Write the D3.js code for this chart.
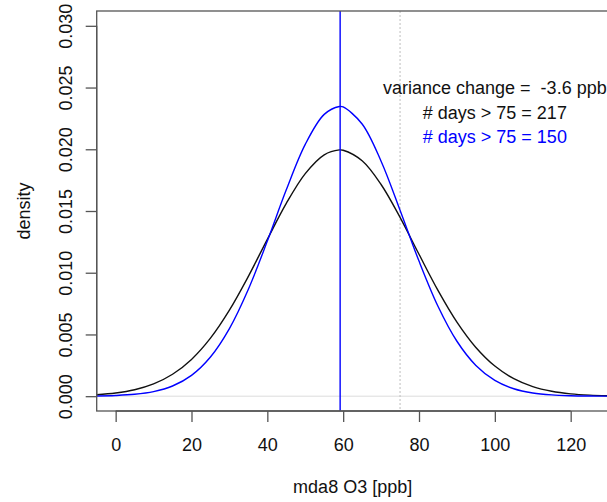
<!DOCTYPE html>
<html>
<head>
<meta charset="utf-8">
<script src="https://cdn.jsdelivr.net/npm/d3@7"></script>
<style>
  html, body { margin: 0; padding: 0; background: #fff; }
  svg { display: block; font-family: "Liberation Sans", Arial, sans-serif; }
  text { white-space: pre; }
</style>
</head>
<body>
<div id="chart"></div>
<script>
const o3 = [-5, 0, 5, 10, 15, 20, 25, 30, 35, 40, 45, 50, 55, 59, 60, 65, 70, 75,
  80, 85, 90, 95, 100, 105, 110, 115, 120, 125, 130];
// black curve: current distribution
const densityNow = [0.000119, 0.000257, 0.000521, 0.000992, 0.001774, 0.002980, 0.004703,
  0.006972, 0.009709, 0.012703, 0.015613, 0.018026, 0.019552, 0.019947, 0.019922,
  0.019069, 0.017147, 0.014485, 0.011494, 0.008569, 0.006000, 0.003948, 0.002440,
  0.001416, 0.000772, 0.000396, 0.000191, 0.000086, 0.000037];
// blue curve: after the variance change
const densityNew = [0.0000196, 0.0000569, 0.000151, 0.000368, 0.000824, 0.001689, 0.003176,
  0.005477, 0.008663, 0.012567, 0.016718, 0.020398, 0.022826, 0.023467, 0.023426,
  0.022050, 0.019035, 0.015070, 0.010942, 0.007286, 0.004450, 0.002493, 0.001281,
  0.000604, 0.000261, 0.000103, 0.0000375, 0.0000125, 0.0000038];

const meanO3 = 59.2;
const threshold = 75;
const xTicks = [0, 20, 40, 60, 80, 100, 120];
const yTicks = [0, 0.005, 0.010, 0.015, 0.020, 0.025, 0.030];
const labels = [
  { text: 'variance change =  -3.6 ppb', y: 0.025, color: '#111' },
  { text: '# days > 75 = 217', y: 0.023, color: '#111' },
  { text: '# days > 75 = 150', y: 0.021, color: '#0000ff' },
];

const width = 607, height = 502;
const box = { left: 96.7, right: 608.6, top: 11, bottom: 411 };
const fontSize = 18;

const svg = d3.select('#chart').append('svg')
  .attr('width', width).attr('height', height);

const x = d3.scaleLinear().domain([-5, 130]).range([box.left, box.right]);
const y = d3.scaleLinear().domain([-0.0012, 0.0312]).range([box.bottom, box.top]);

svg.append('clipPath').attr('id', 'plot-clip')
  .append('rect')
  .attr('x', box.left).attr('y', box.top)
  .attr('width', box.right - box.left).attr('height', box.bottom - box.top);

const plot = svg.append('g').attr('clip-path', 'url(#plot-clip)');

// reference lines
plot.append('line')
  .attr('x1', box.left).attr('x2', box.right)
  .attr('y1', y(0)).attr('y2', y(0))
  .attr('stroke', '#dcdcdc').attr('stroke-width', 1);

plot.append('line')
  .attr('x1', x(threshold)).attr('x2', x(threshold))
  .attr('y1', box.top).attr('y2', box.bottom)
  .attr('stroke', '#bdbdbd').attr('stroke-width', 1)
  .attr('stroke-dasharray', '2,2');

const line = vals => d3.line()
  .x((d, i) => x(o3[i]))
  .y(d => y(d))
  .curve(d3.curveCatmullRom)(vals);

plot.append('path')
  .attr('d', line(densityNow))
  .attr('fill', 'none').attr('stroke', '#111').attr('stroke-width', 1.4);

plot.append('path')
  .attr('d', line(densityNew))
  .attr('fill', 'none').attr('stroke', '#0000ff').attr('stroke-width', 1.4);

plot.append('line')
  .attr('x1', x(meanO3)).attr('x2', x(meanO3))
  .attr('y1', box.top).attr('y2', box.bottom)
  .attr('stroke', '#0000ff').attr('stroke-width', 1.4);

// annotation text
svg.append('g').selectAll('text')
  .data(labels)
  .join('text')
  .attr('x', x(100))
  .attr('y', d => y(d.y))
  .attr('dy', '0.35em')
  .attr('text-anchor', 'middle')
  .attr('font-size', fontSize)
  .attr('fill', d => d.color)
  .text(d => d.text);

// plot box
svg.append('rect')
  .attr('x', box.left).attr('y', box.top)
  .attr('width', box.right - box.left).attr('height', box.bottom - box.top)
  .attr('fill', 'none').attr('stroke', '#555').attr('stroke-width', 1.3);

// axes, R style: ticks hanging outside the box
const xAxis = svg.append('g')
  .attr('transform', `translate(0,${box.bottom})`)
  .call(d3.axisBottom(x).tickValues(xTicks).tickSize(11).tickPadding(16)
    .tickFormat(d3.format('d')));
xAxis.select('.domain')
  .attr('d', `M${x(xTicks[0])},0H${x(xTicks[xTicks.length - 1])}`);
xAxis.selectAll('.domain, .tick line').attr('stroke', '#555').attr('stroke-width', 1.3);
xAxis.selectAll('text').attr('font-size', fontSize).attr('fill', '#111')
  .attr('font-family', '"Liberation Sans", Arial, sans-serif');

const yAxis = svg.append('g')
  .attr('transform', `translate(${box.left},0)`)
  .call(d3.axisLeft(y).tickValues(yTicks).tickSize(11)
    .tickFormat(d3.format('.3f')));
yAxis.select('.domain')
  .attr('d', `M0,${y(yTicks[0])}V${y(yTicks[yTicks.length - 1])}`);
yAxis.selectAll('.domain, .tick line').attr('stroke', '#555').attr('stroke-width', 1.3);
yAxis.selectAll('text')
  .attr('x', null).attr('dy', null)
  .attr('transform', 'translate(-25,0) rotate(-90)')
  .attr('text-anchor', 'middle')
  .attr('font-size', fontSize).attr('fill', '#111')
  .attr('font-family', '"Liberation Sans", Arial, sans-serif');

// axis titles
svg.append('text')
  .attr('x', (box.left + box.right) / 2).attr('y', 493)
  .attr('text-anchor', 'middle').attr('font-size', fontSize).attr('fill', '#111')
  .text('mda8 O3 [ppb]');

svg.append('text')
  .attr('transform', `translate(30,${(box.top + box.bottom) / 2}) rotate(-90)`)
  .attr('text-anchor', 'middle').attr('font-size', fontSize).attr('fill', '#111')
  .text('density');
</script>
</body>
</html>
